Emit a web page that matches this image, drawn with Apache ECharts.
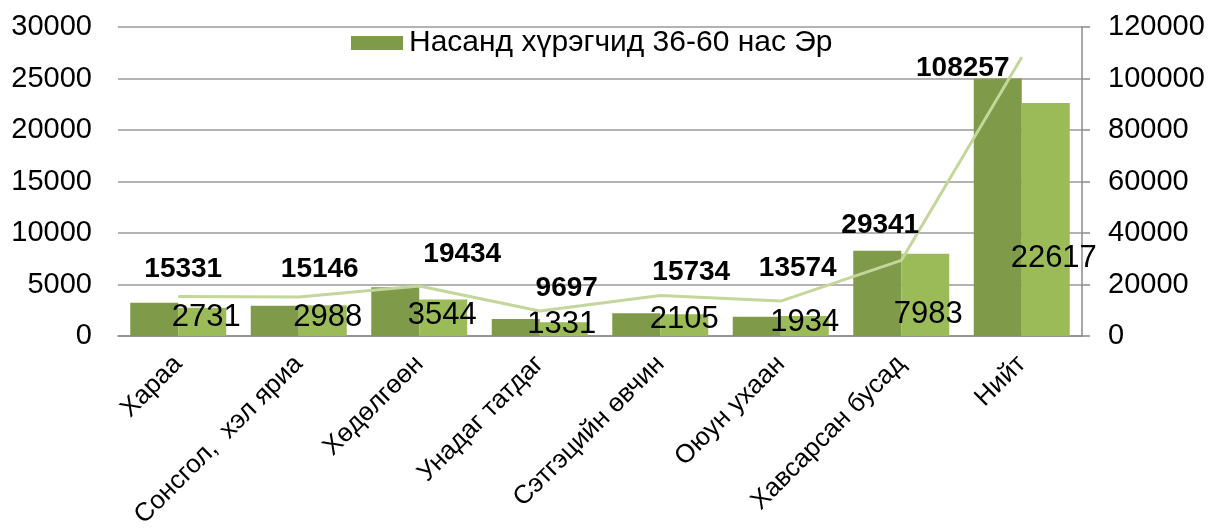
<!DOCTYPE html>
<html>
<head>
<meta charset="utf-8">
<script src="https://cdn.jsdelivr.net/npm/echarts@6/dist/echarts.min.js"></script>
<style>
html,body{margin:0;padding:0;background:#fff;}
#chart{width:1208px;height:531px;}
</style>
</head>
<body>
<div id="chart"></div>
<script>
const categories = ['Хараа', 'Сонсгол,  хэл яриа', 'Хөдөлгөөн', 'Унадаг татдаг', 'Сэтгэцийн өвчин', 'Оюун ухаан', 'Хавсарсан бусад', 'Нийт'];
const maleValues = [3233, 2942, 4728, 1650, 2200, 1875, 8282, 25000];
const femaleValues = [2731, 2988, 3544, 1331, 2105, 1934, 7983, 22617];
const totalValues = [15331, 15146, 19434, 9697, 15734, 13574, 29341, 108257];
const leftTicks = [0, 5000, 10000, 15000, 20000, 25000, 30000];
const rightTicks = [0, 20000, 40000, 60000, 80000, 100000, 120000];

// label placement (style only)
const totalLabelOffsets = [[5,-27],[21,-28],[43,-32],[27,-23],[31,-23],[17,-33],[-21,-35],[-59,11]];
const femaleLabelOffsets = [[4,-3],[5,-3],[-1,-5],[-2,4],[0,-1],[0,2],[3,-6],[8,-62]];

const FONT = 'Liberation Sans';
const plain = v => String(v);
const chart = echarts.init(document.getElementById('chart'));
const option = {
  animation: false,
  textStyle: {fontFamily: FONT},
  grid: {left: 118, right: 126, top: 27, bottom: 195, containLabel: false, outerBoundsMode: 'none'},
  legend: {
    data: ['Насанд хүрэгчид 36-60 нас Эр'],
    left: 351, top: 28, padding: 0,
    itemWidth: 52, itemHeight: 14, itemGap: 10,
    icon: 'rect',
    textStyle: {fontFamily: FONT, fontSize: 30, color: '#000', padding: [0,0,0,1]}
  },
  xAxis: {
    type: 'category',
    data: categories,
    axisLine: {lineStyle: {color: '#8c8c8c', width: 1.5}},
    axisTick: {show: false},
    axisLabel: {rotate: 45, fontSize: 26, color: '#000', fontFamily: FONT, margin: 24, interval: 0}
  },
  yAxis: [
    {
      type: 'value', min: leftTicks[0], max: leftTicks[leftTicks.length-1], interval: leftTicks[1]-leftTicks[0],
      axisLine: {show: false}, axisTick: {show: false},
      splitLine: {lineStyle: {color: '#9a9a9a', width: 1.5}},
      axisLabel: {fontSize: 29, color: '#000', fontFamily: FONT, margin: 26, formatter: plain}
    },
    {
      type: 'value', min: rightTicks[0], max: rightTicks[rightTicks.length-1], interval: rightTicks[1]-rightTicks[0],
      position: 'right',
      axisLine: {show: true, lineStyle: {color: '#8c8c8c', width: 1.5}},
      axisTick: {show: true, length: 8, lineStyle: {color: '#8c8c8c', width: 1.5}},
      splitLine: {show: false},
      axisLabel: {fontSize: 29, color: '#000', fontFamily: FONT, margin: 26, formatter: plain}
    }
  ],
  series: [
    {
      name: 'Насанд хүрэгчид 36-60 нас Эр',
      type: 'bar', yAxisIndex: 0,
      data: maleValues,
      barWidth: 48, barGap: '0%',
      itemStyle: {color: '#7f9a48'}
    },
    {
      name: 'Насанд хүрэгчид 36-60 нас Эм',
      type: 'bar', yAxisIndex: 0,
      data: femaleValues.map((v, i) => ({
        value: v,
        label: {offset: femaleLabelOffsets[i]}
      })),
      barWidth: 48,
      itemStyle: {color: '#9bbb59'},
      label: {show: true, position: 'insideBottom', distance: 0, fontSize: 31, color: '#000', fontFamily: FONT}
    },
    {
      name: 'Нийт',
      type: 'line', yAxisIndex: 1,
      data: totalValues.map((v, i) => ({
        value: v,
        label: {offset: totalLabelOffsets[i]}
      })),
      symbol: 'circle', symbolSize: 1,
      lineStyle: {color: '#c3d69b', width: 3},
      itemStyle: {color: '#c3d69b'},
      z: 5,
      label: {show: true, position: 'inside', fontSize: 28, fontWeight: 'bold', color: '#000', fontFamily: FONT}
    }
  ]
};
chart.setOption(option);
</script>
</body>
</html>
